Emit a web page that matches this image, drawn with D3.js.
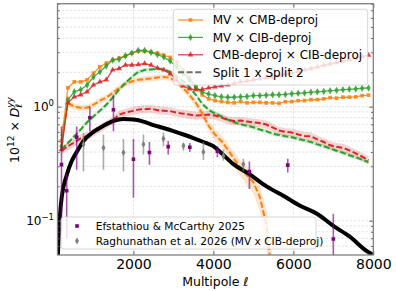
<!DOCTYPE html>
<meta charset="utf-8">
<style>
body { margin: 0; background: #fff; }
text { font-family: "DejaVu Sans", sans-serif; fill: #000; }
</style>
<div id="chart"></div>
<script src="https://d3js.org/d3.v7.min.js"></script>
<script>
  var width = 396, height = 291;
  var plot = {left: 57.5, right: 373.3, top: 3.7, bottom: 255};

  // binned multipoles used by the six cross-spectra
  var ellBins = [200, 360, 520, 680, 840, 1000, 1160, 1320, 1480, 1640, 1800, 1960, 2120, 2280, 2440,
    2600, 2760, 2920, 3080, 3240, 3400, 3560, 3720, 3880, 4040, 4200, 4360, 4520, 4680, 4840, 5000,
    5160, 5320, 5480, 5640, 5800, 5960, 6120, 6280, 6440, 6600, 6760, 6920, 7080, 7240, 7400, 7560,
    7720, 7880];

  var mvCmb = [0.50, 1.46, 1.65, 1.65, 1.72, 1.97, 2.23, 2.41, 2.56, 2.67, 2.78, 2.95, 3.07, 3.07, 3.01,
    2.95, 2.83, 2.70, 2.46, 2.10, 1.79, 1.49, 1.27, 1.17, 1.13, 1.105, 1.09, 1.08, 1.105, 1.08, 1.09,
    1.09, 1.08, 1.08, 1.07, 1.105, 1.105, 1.13, 1.13, 1.15, 1.15, 1.17, 1.20, 1.19, 1.21, 1.21, 1.22,
    1.25, 1.26];
  var mvCib = [0.45, 1.15, 1.35, 1.41, 1.55, 1.82, 2.02, 2.27, 2.56, 2.61, 2.80, 2.95, 3.11, 3.11, 3.00,
    2.86, 2.72, 2.51, 2.25, 1.97, 1.72, 1.49, 1.35, 1.29, 1.25, 1.22, 1.21, 1.21, 1.22, 1.23, 1.25,
    1.25, 1.26, 1.27, 1.27, 1.28, 1.30, 1.31, 1.32, 1.34, 1.35, 1.36, 1.38, 1.39, 1.41, 1.42, 1.43,
    1.45, 1.46];
  var cmbCib = [0.42, 1.08, 1.22, 1.27, 1.35, 1.55, 1.65, 1.72, 2.10, 2.16, 2.32, 2.32, 2.34, 2.39, 2.32,
    2.18, 2.10, 1.94, 1.72, 1.52, 1.43, 1.41, 1.42, 1.46, 1.49, 1.52, 1.55, 1.60, 1.65, 1.68, 1.72,
    1.75, 1.79, 1.82, 1.88, 1.94, 1.97, 2.04, 2.10, 2.16, 2.23, 2.30, 2.37, 2.44, 2.51, 2.59, 2.67,
    2.75, 2.83];

  // split 1 x split 2 versions (dashed) and their fractional band half-widths
  var mvCmbSplit = [0.55, 1.08, 1.00, 0.98, 0.98, 1.04, 1.13, 1.20, 1.32, 1.46, 1.58, 1.67, 1.72, 1.75,
    1.77, 1.80, 1.82, 1.79, 1.66, 1.46, 1.27, 1.08, 0.87, 0.68, 0.57, 0.50, 0.42, 0.346, 0.29, 0.25,
    0.218, 0.162, 0.094, 0.03];
  var mvCmbSplitErr = [0.15, 0.08, 0.06, 0.06, 0.06, 0.06, 0.06, 0.06, 0.06, 0.06, 0.06, 0.06, 0.06, 0.06,
    0.06, 0.06, 0.06, 0.06, 0.06, 0.07, 0.07, 0.08, 0.09, 0.10, 0.11, 0.12, 0.13, 0.15, 0.16, 0.18,
    0.20, 0.25, 0.35, 0.5];
  var mvCibSplit = [0.42, 0.48, 0.55, 0.63, 0.73, 0.82, 0.92, 1.04, 1.20, 1.41, 1.62, 1.82, 2.02, 2.10,
    2.12, 2.16, 2.12, 2.02, 1.84, 1.67, 1.49, 1.27, 1.06, 0.94, 0.87, 0.82, 0.77, 0.73, 0.70, 0.68,
    0.66, 0.63, 0.61, 0.58, 0.565, 0.55, 0.54, 0.52, 0.506, 0.49, 0.467, 0.45, 0.43, 0.41, 0.394,
    0.375, 0.36, 0.343, 0.326];
  var cmbCibSplit = [0.41, 0.45, 0.486, 0.527, 0.554, 0.594, 0.644, 0.697, 0.756, 0.852, 0.887, 0.914,
    0.942, 0.951, 0.961, 0.932, 0.923, 0.914, 0.887, 0.869, 0.852, 0.835, 0.843, 0.852, 0.835, 0.802,
    0.763, 0.748, 0.756, 0.74, 0.726, 0.719, 0.697, 0.657, 0.618, 0.60, 0.594, 0.571, 0.554, 0.549,
    0.516, 0.49, 0.458, 0.445, 0.436, 0.414, 0.39, 0.364, 0.34];
  var greenBand = 0.04, redBand = 0.08;

  // black curve
  var blackEll = [110, 160, 210, 330, 450, 580, 750, 1000, 1250, 1500, 1750, 2000, 2250, 2500, 2750,
    3000, 3250, 3500, 3750, 4000, 4170, 4500, 4900, 5330, 5740, 6170, 6590, 7000, 7420, 7840, 8000];
  var blackVal = [0.05, 0.11, 0.165, 0.25, 0.33, 0.40, 0.50, 0.60, 0.68, 0.75, 0.78, 0.77, 0.74, 0.69,
    0.65, 0.61, 0.57, 0.53, 0.49, 0.45, 0.40, 0.313, 0.256, 0.20, 0.166, 0.135, 0.115, 0.09, 0.072,
    0.054, 0.05];

  // Efstathiou & McCarthy 2025
  var efsEll = [200, 330, 580, 910, 1500, 2000, 2400, 2870, 3410, 4100, 4900, 5860, 7000];
  var efsVal = [0.31, 0.183, 0.54, 0.80, 0.94, 0.346, 0.396, 0.446, 0.44, 0.406, 0.27, 0.307, 0.069];
  var efsLo = [0.082, 0.07, 0.28, 0.61, 0.61, 0.16, 0.31, 0.38, 0.40, 0.36, 0.19, 0.265, 0.05];
  var efsHi = [0.67, 0.26, 0.67, 1.0, 1.27, 0.52, 0.49, 0.50, 0.48, 0.45, 0.33, 0.35, 0.115];

  // Raghunathan et al. 2026
  var ragEll = [750, 1250, 1750, 2250, 2750, 3250, 3750, 4250, 4750];
  var ragVal = [0.467, 0.437, 0.396, 0.467, 0.524, 0.455, 0.40, 0.37, 0.313];
  var ragLo = [0.27, 0.28, 0.27, 0.38, 0.45, 0.41, 0.34, 0.335, 0.27];
  var ragHi = [0.59, 0.57, 0.52, 0.57, 0.59, 0.48, 0.49, 0.42, 0.35];

  var xTicks = [2000, 4000, 6000, 8000];
  var yMajor = [0.1, 1];
  var yMinor = [0.06, 0.07, 0.08, 0.09, 0.2, 0.3, 0.4, 0.5, 0.6, 0.7, 0.8, 0.9, 2, 3, 4, 5, 6, 7, 8];

  var orange = "#ff7f0e", green = "#2ca02c", red = "#d62728", purple = "#800080", gray = "#808080";

  var x = d3.scaleLinear().domain([100, 8000]).range([plot.left, plot.right]);
  var y = d3.scaleLog().domain([0.05, 8]).range([plot.bottom, plot.top]);

  var svg = d3.select("#chart").append("svg")
    .attr("width", width)
    .attr("height", height);

  svg.append("clipPath").attr("id", "clip")
    .append("rect")
    .attr("x", plot.left).attr("y", plot.top)
    .attr("width", plot.right - plot.left).attr("height", plot.bottom - plot.top);

  // grid
  var grid = svg.append("g").attr("stroke", "#b0b0b0").attr("stroke-opacity", 0.5)
    .attr("stroke-width", 0.7).attr("stroke-dasharray", "2.5,1.5");
  grid.selectAll(".gx").data(xTicks.slice(0, 3)).enter().append("line")
    .attr("x1", d => x(d)).attr("x2", d => x(d))
    .attr("y1", plot.top).attr("y2", plot.bottom);
  grid.selectAll(".gy").data(yMajor.concat(yMinor)).enter().append("line")
    .attr("y1", d => y(d)).attr("y2", d => y(d))
    .attr("x1", plot.left).attr("x2", plot.right);

  var layer = svg.append("g").attr("clip-path", "url(#clip)");

  function pts(ells, vals) {
    return vals.map(function(v, i) { return [ells[i], v]; });
  }

  var line = d3.line().x(d => x(d[0])).y(d => y(Math.max(d[1], 0.01)));

  function band(vals, err, color, opacity) {
    var data = vals.map(function(v, i) {
      var e = Array.isArray(err) ? err[i] : err;
      return {l: ellBins[i], lo: v * (1 - e), hi: v * (1 + e)};
    });
    layer.append("path")
      .datum(data)
      .attr("fill", color)
      .attr("fill-opacity", opacity)
      .attr("d", d3.area().x(d => x(d.l)).y0(d => y(Math.max(d.lo, 0.01))).y1(d => y(d.hi)));
  }

  band(mvCmbSplit, mvCmbSplitErr, orange, 0.22);
  band(mvCibSplit, greenBand, green, 0.2);
  band(cmbCibSplit, redBand, red, 0.2);

  [[mvCmbSplit, orange], [mvCibSplit, green], [cmbCibSplit, red]].forEach(function(s) {
    layer.append("path")
      .datum(pts(ellBins, s[0]))
      .attr("fill", "none")
      .attr("stroke", s[1])
      .attr("stroke-width", 2)
      .attr("stroke-dasharray", "6,2.6")
      .attr("d", line);
  });

  var solid = [
    {vals: mvCmb, color: orange, symbol: d3.symbolSquare, size: 14},
    {vals: mvCib, color: green, symbol: d3.symbolDiamond, size: 16},
    {vals: cmbCib, color: red, symbol: d3.symbolTriangle, size: 14}
  ];

  solid.forEach(function(s) {
    layer.append("path")
      .datum(pts(ellBins, s.vals))
      .attr("fill", "none")
      .attr("stroke", s.color)
      .attr("stroke-opacity", 0.85)
      .attr("stroke-width", 1.3)
      .attr("d", line);
    layer.selectAll(null)
      .data(pts(ellBins, s.vals))
      .enter().append("path")
      .attr("transform", d => "translate(" + x(d[0]) + "," + y(d[1]) + ")")
      .attr("d", d3.symbol().type(s.symbol).size(s.size))
      .attr("fill", s.color)
      .attr("fill-opacity", 0.85);
  });

  layer.append("path")
    .datum(pts(blackEll, blackVal))
    .attr("fill", "none")
    .attr("stroke", "#000")
    .attr("stroke-width", 4)
    .attr("d", d3.line().x(d => x(d[0])).y(d => y(d[1])).curve(d3.curveMonotoneX));

  function points(ells, vals, lo, hi, color, symbol, size) {
    var data = vals.map(function(v, i) { return {l: ells[i], v: v, lo: lo[i], hi: hi[i]}; });
    layer.selectAll(null).data(data).enter().append("line")
      .attr("x1", d => x(d.l)).attr("x2", d => x(d.l))
      .attr("y1", d => y(d.lo)).attr("y2", d => y(d.hi))
      .attr("stroke", color).attr("stroke-opacity", 0.65).attr("stroke-width", 1.6);
    layer.selectAll(null).data(data).enter().append("path")
      .attr("transform", d => "translate(" + x(d.l) + "," + y(d.v) + ")")
      .attr("d", d3.symbol().type(symbol).size(size))
      .attr("fill", color);
  }

  points(ragEll, ragVal, ragLo, ragHi, gray, d3.symbolDiamond, 14);
  points(efsEll, efsVal, efsLo, efsHi, purple, d3.symbolSquare, 13);

  // axes, ticks inward on all sides
  function styleAxis(g) {
    g.select(".domain").remove();
    g.selectAll(".tick line").attr("stroke", "#555").attr("stroke-width", 0.9);
  }

  svg.append("g")
    .attr("transform", "translate(0," + plot.bottom + ")")
    .call(d3.axisBottom(x).tickValues(xTicks).tickSize(-4).tickPadding(4).tickFormat(d3.format("d")))
    .call(styleAxis)
    .selectAll("text").attr("font-size", 14).attr("font-family", "DejaVu Sans");
  svg.append("g")
    .attr("transform", "translate(0," + plot.top + ")")
    .call(d3.axisTop(x).tickValues(xTicks).tickSize(-4).tickFormat(""))
    .call(styleAxis);

  [[d3.axisLeft, plot.left], [d3.axisRight, plot.right]].forEach(function(a) {
    svg.append("g")
      .attr("transform", "translate(" + a[1] + ",0)")
      .call(a[0](y).tickValues(yMajor).tickSize(-4).tickFormat(""))
      .call(styleAxis);
    svg.append("g")
      .attr("transform", "translate(" + a[1] + ",0)")
      .call(a[0](y).tickValues(yMinor).tickSize(-2.2).tickFormat(""))
      .call(styleAxis);
  });

  var yLab = svg.append("g");
  yMajor.forEach(function(v) {
    var t = yLab.append("text")
      .attr("x", plot.left - 3.5)
      .attr("y", y(v) + 4.5)
      .attr("text-anchor", "end")
      .attr("font-size", 12);
    t.append("tspan").text("10");
    t.append("tspan").attr("dy", -5).attr("font-size", 8.5).text(Math.log10(v) < 0 ? "\u22121" : "0");
  });

  svg.append("rect")
    .attr("x", plot.left).attr("y", plot.top)
    .attr("width", plot.right - plot.left).attr("height", plot.bottom - plot.top)
    .attr("fill", "none").attr("stroke", "#808080").attr("stroke-width", 1.3);

  svg.append("text")
    .attr("x", (plot.left + plot.right) / 2)
    .attr("y", 285.5)
    .attr("text-anchor", "middle")
    .attr("font-size", 12.5)
    .text("Multipole \u2113");

  var yl = svg.append("text")
    .attr("transform", "translate(19,130) rotate(-90)")
    .attr("text-anchor", "middle")
    .attr("font-size", 12.5);
  yl.append("tspan").text("10");
  yl.append("tspan").attr("dy", -5).attr("font-size", 9).text("12");
  yl.append("tspan").attr("dy", 5).text(" \u00d7 ");
  yl.append("tspan").attr("font-style", "italic").text("D");
  yl.append("tspan").attr("dy", 3).attr("font-size", 9).attr("font-style", "italic").text("\u2113");
  yl.append("tspan").attr("dx", -4).attr("dy", -9).attr("font-size", 9).attr("font-style", "italic").text("yy");

  // upper legend
  var leg = svg.append("g");
  leg.append("rect")
    .attr("x", 173.3).attr("y", 9.3).attr("width", 194.4).attr("height", 75.7).attr("rx", 3)
    .attr("fill", "#fff").attr("fill-opacity", 0.8).attr("stroke", "#ccc").attr("stroke-width", 0.8);
  var legItems = [
    {label: "MV \u00d7 CMB-deproj", color: orange, symbol: d3.symbolSquare, size: 14},
    {label: "MV \u00d7 CIB-deproj", color: green, symbol: d3.symbolDiamond, size: 16},
    {label: "CMB-deproj \u00d7 CIB-deproj", color: red, symbol: d3.symbolTriangle, size: 14},
    {label: "Split 1 x Split 2", color: "#555", dashed: true}
  ];
  legItems.forEach(function(d, i) {
    var cy = 20 + i * 17.4;
    leg.append("line")
      .attr("x1", 178).attr("x2", 203).attr("y1", cy).attr("y2", cy)
      .attr("stroke", d.color)
      .attr("stroke-opacity", 0.85)
      .attr("stroke-width", d.dashed ? 2 : 1.3)
      .attr("stroke-dasharray", d.dashed ? "6,2.6" : null);
    if (d.symbol) {
      leg.append("path")
        .attr("transform", "translate(190.5," + cy + ")")
        .attr("d", d3.symbol().type(d.symbol).size(d.size))
        .attr("fill", d.color).attr("fill-opacity", 0.85);
    }
    leg.append("text")
      .attr("x", 212.7).attr("y", cy + 4.3)
      .attr("font-size", 12)
      .text(d.label);
  });

  // lower legend
  var leg2 = svg.append("g");
  leg2.append("rect")
    .attr("x", 61).attr("y", 217).attr("width", 255).attr("height", 32).attr("rx", 3)
    .attr("fill", "#fff").attr("fill-opacity", 0.8).attr("stroke", "#ccc").attr("stroke-width", 0.8);
  var leg2Items = [
    {label: "Efstathiou & McCarthy 2025", color: purple, symbol: d3.symbolSquare, size: 13},
    {label: "Raghunathan et al. 2026 (MV x CIB-deproj)", color: gray, symbol: d3.symbolDiamond, size: 14}
  ];
  leg2Items.forEach(function(d, i) {
    var cy = 226 + i * 15;
    leg2.append("path")
      .attr("transform", "translate(77," + cy + ")")
      .attr("d", d3.symbol().type(d.symbol).size(d.size))
      .attr("fill", d.color);
    leg2.append("text")
      .attr("x", 95.7).attr("y", cy + 3.8)
      .attr("font-size", 10.6)
      .text(d.label);
  });
</script>
